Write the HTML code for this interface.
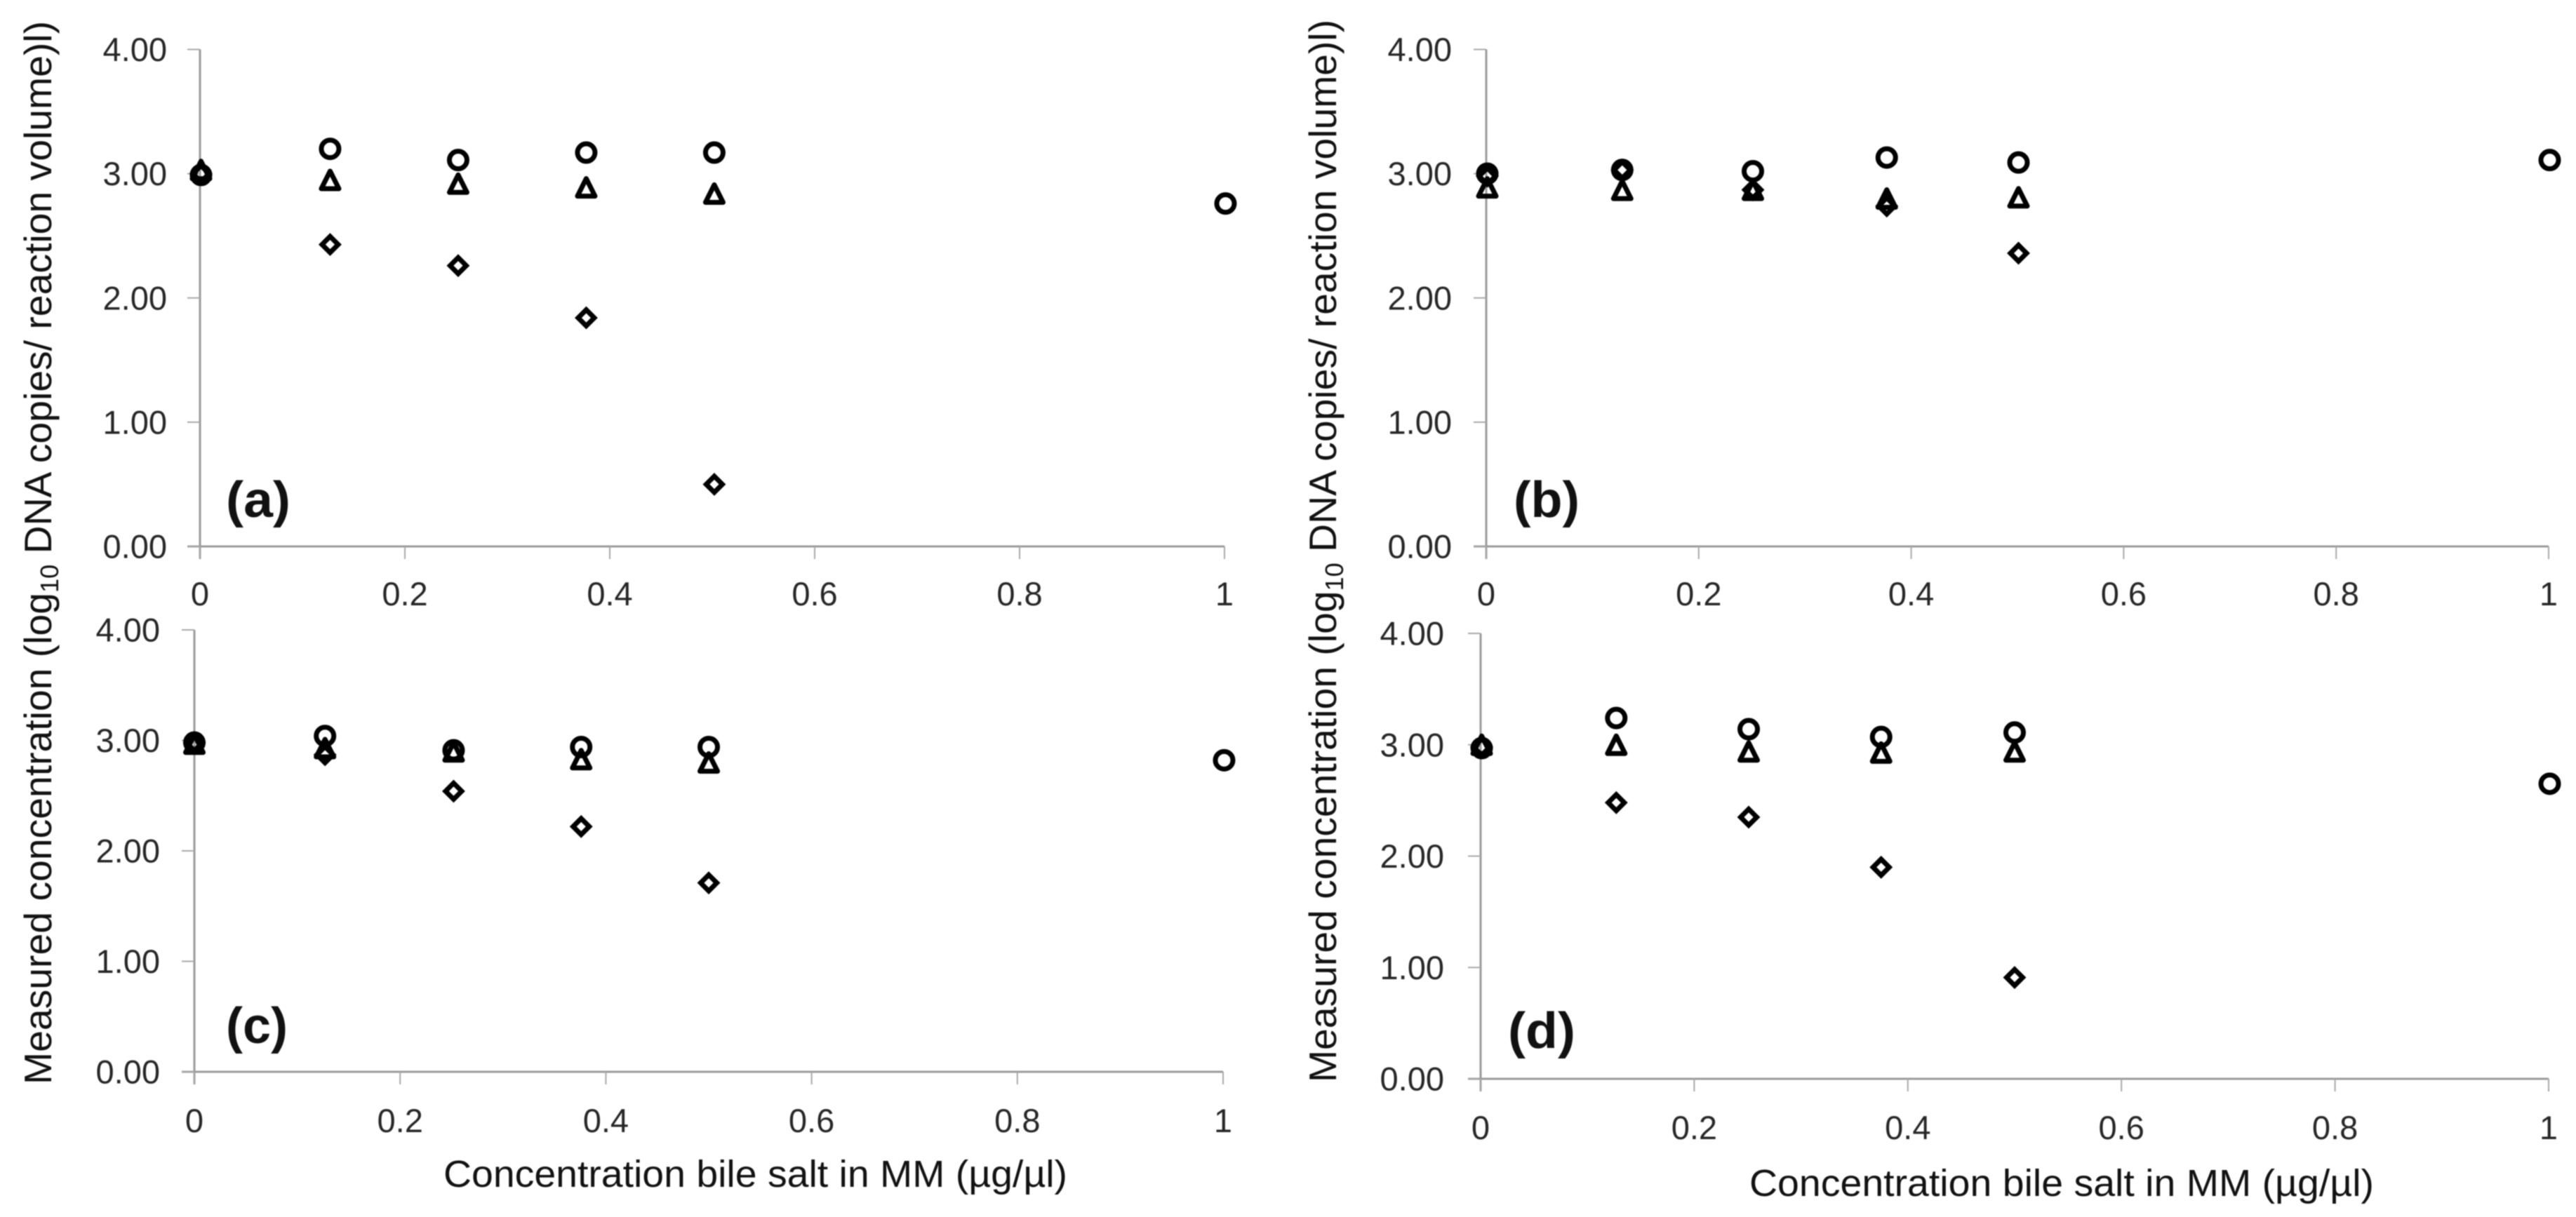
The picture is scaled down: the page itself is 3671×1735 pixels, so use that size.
<!DOCTYPE html>
<html lang="en">
<head>
<meta charset="utf-8">
<title>Measured concentration vs bile salt concentration</title>
<style>
html,body{margin:0;padding:0;background:#fff;width:3671px;height:1735px;overflow:hidden}
svg{display:block;font-family:"Liberation Sans",sans-serif;filter:blur(0.8px)}
.tick-label{font-size:47px;fill:#262626}
.axis-title{font-size:54px;fill:#111}
.y-title{font-size:55px;fill:#111}
.panel-tag{font-size:72px;font-weight:bold;fill:#111}
</style>
</head>
<body>
<svg id="figure" xmlns="http://www.w3.org/2000/svg" width="3671" height="1735" viewBox="0 0 3671 1735">
  <rect width="3671" height="1735" fill="#fff"/>
  <text class="y-title" transform="translate(73,1546) rotate(-90)" textLength="1516" lengthAdjust="spacingAndGlyphs">Measured concentration (log<tspan font-size="36" dy="10">10</tspan><tspan dy="-10"> DNA copies/ reaction volume)l)</tspan></text>
  <text class="y-title" transform="translate(1904,1543) rotate(-90)" textLength="1515" lengthAdjust="spacingAndGlyphs">Measured concentration (log<tspan font-size="36" dy="10">10</tspan><tspan dy="-10"> DNA copies/ reaction volume)l)</tspan></text>
  <text class="axis-title" x="632" y="1692" textLength="889" lengthAdjust="spacingAndGlyphs">Concentration bile salt in MM (µg/µl)</text>
  <text class="axis-title" x="2493" y="1705" textLength="890" lengthAdjust="spacingAndGlyphs">Concentration bile salt in MM (µg/µl)</text>
  <text class="panel-tag" x="322" y="737" textLength="92" lengthAdjust="spacingAndGlyphs">(a)</text>
  <text class="panel-tag" x="2157" y="737" textLength="94" lengthAdjust="spacingAndGlyphs">(b)</text>
  <text class="panel-tag" x="322" y="1487" textLength="88" lengthAdjust="spacingAndGlyphs">(c)</text>
  <text class="panel-tag" x="2149" y="1494" textLength="96" lengthAdjust="spacingAndGlyphs">(d)</text>
</svg>
<script>
// Shared tick labels
const xTicks = [0, 0.2, 0.4, 0.6, 0.8, 1];
const xTickLabels = ["0", "0.2", "0.4", "0.6", "0.8", "1"];
const yTicks = [0, 1, 2, 3, 4];
const yTickLabels = ["0.00", "1.00", "2.00", "3.00", "4.00"];

// Panel (a)
const xA = [0.001, 0.127, 0.252, 0.377, 0.502, 1.001];
const circlesA = [2.99, 3.20, 3.11, 3.17, 3.17, 2.76];
const trianglesA = [3.03, 2.95, 2.92, 2.89, 2.84];
const diamondsA = [3.00, 2.43, 2.26, 1.84, 0.50];

// Panel (b)
const xB = [0.001, 0.128, 0.251, 0.377, 0.501, 1.001];
const circlesB = [3.00, 3.03, 3.02, 3.13, 3.09, 3.11];
const trianglesB = [2.89, 2.87, 2.87, 2.80, 2.81];
const diamondsB = [2.98, 3.03, 2.87, 2.74, 2.36];

// Panel (c)
const xC = [0.000, 0.127, 0.252, 0.376, 0.500, 1.001];
const circlesC = [2.98, 3.04, 2.91, 2.94, 2.94, 2.82];
const trianglesC = [2.97, 2.93, 2.90, 2.83, 2.80];
const diamondsC = [2.98, 2.87, 2.54, 2.22, 1.71];

// Panel (d)
const xD = [0.001, 0.127, 0.251, 0.375, 0.500, 1.001];
const circlesD = [2.97, 3.24, 3.14, 3.07, 3.11, 2.65];
const trianglesD = [3.00, 3.00, 2.94, 2.93, 2.94];
const diamondsD = [2.98, 2.48, 2.35, 1.90, 0.91];

const SVG_NS = "http://www.w3.org/2000/svg";
const figure = document.getElementById("figure");

function make(parent, tag, attrs, text) {
  const el = document.createElementNS(SVG_NS, tag);
  for (const k in attrs) el.setAttribute(k, attrs[k]);
  if (text !== undefined) el.textContent = text;
  parent.appendChild(el);
  return el;
}

function drawPanel(id, box, xs, circles, triangles, diamonds) {
  const xScale = v => box.x0 + v * (box.x1 - box.x0);
  const yScale = v => box.y0 - (v / 4) * (box.y0 - box.y4);

  const g = make(figure, "g", {});
  
  

  const yAxis = make(g, "line", {x1: box.x0, x2: box.x0, y1: yScale(4), y2: box.y0 + 18, stroke: "#9a9a9a", "stroke-width": 3});
  
  

  const xAxis = make(g, "line", {x1: box.x0 - 18, x2: xScale(1), y1: box.y0, y2: box.y0, stroke: "#9a9a9a", "stroke-width": 3});
  
  

  yTicks.forEach((v, i) => {
    const y = yScale(v);
    const tick = make(g, "line", {x1: box.x0 - 18, x2: box.x0, y1: y, y2: y, stroke: "#a8a8a8", "stroke-width": 2});
    
    
    const label = make(g, "text", {class: "tick-label", x: box.yLabelRight, y: y + 16.5, "text-anchor": "end"}, yTickLabels[i]);
    
    
  });

  xTicks.forEach((v, i) => {
    const x = xScale(v);
    const tick = make(g, "line", {x1: x, x2: x, y1: box.y0, y2: box.y0 + 18, stroke: "#a8a8a8", "stroke-width": 2});
    
    
    const label = make(g, "text", {class: "tick-label", x: x, y: box.xLabelY, "text-anchor": "middle"}, xTickLabels[i]);
    
    
  });

  const style = {fill: "none", stroke: "#000", "stroke-width": 7};

  diamonds.forEach((v, i) => {
    const cx = xScale(xs[i]), cy = yScale(v), h = 11.5;
    const mark = make(g, "polygon", Object.assign({points: `${cx},${cy - h} ${cx + h},${cy} ${cx},${cy + h} ${cx - h},${cy}`}, style));
    
    
  });

  triangles.forEach((v, i) => {
    const cx = xScale(xs[i]), cy = yScale(v), h = 12.5;
    const mark = make(g, "polygon", Object.assign({points: `${cx},${cy - h} ${cx + h},${cy + h} ${cx - h},${cy + h}`, "stroke-linejoin": "round"}, style));
    
    
  });

  circles.forEach((v, i) => {
    const mark = make(g, "circle", Object.assign({cx: xScale(xs[i]), cy: yScale(v), r: 12.5}, style));
    
    
  });
}

drawPanel("a", {x0: 285, x1: 1745, y0: 779, y4: 70.5, yLabelRight: 238, xLabelY: 863}, xA, circlesA, trianglesA, diamondsA);
drawPanel("b", {x0: 2118, x1: 3632, y0: 779, y4: 70.5, yLabelRight: 2069, xLabelY: 863}, xB, circlesB, trianglesB, diamondsB);
drawPanel("c", {x0: 277, x1: 1743, y0: 1528, y4: 898, yLabelRight: 228, xLabelY: 1614}, xC, circlesC, trianglesC, diamondsC);
drawPanel("d", {x0: 2110, x1: 3632, y0: 1538, y4: 903, yLabelRight: 2058, xLabelY: 1624}, xD, circlesD, trianglesD, diamondsD);
</script>
</body>
</html>
